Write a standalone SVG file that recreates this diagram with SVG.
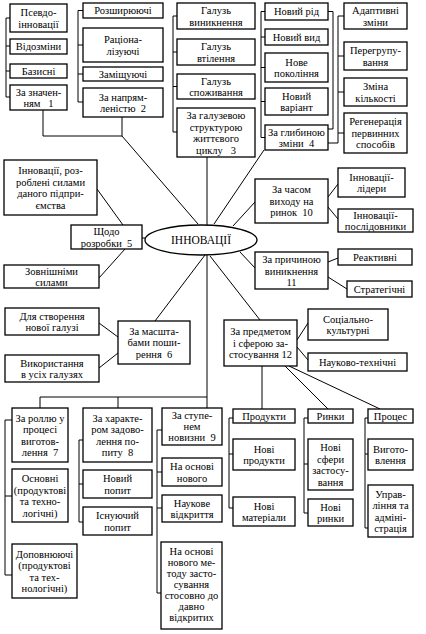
<svg xmlns="http://www.w3.org/2000/svg" width="426" height="634" viewBox="0 0 426 634">
<style>
.b{fill:#fff;stroke:#000;stroke-width:1.3}
.l{fill:none;stroke:#000;stroke-width:1}
</style>
<rect width="426" height="634" fill="#fff"/>
<g id="connectors" class="l">
<path d="M10,18H6V97H10M6,46H10M6,71H10"/>
<path d="M83,10.5H78V102H83M78,45H83M78,74H83"/>
<path d="M43,110V136H122M122,117V136L198,224"/>
<path d="M177,16H173V132H177M173,52H177M173,86.5H177"/>
<path d="M265,11.5H261V137.5H265M261,37H265M261,67.5H265M261,101.5H265"/>
<path d="M328,11.5H333V129H328"/>
<path d="M344,16H338V143H328M338,56H344M338,92H344M338,133H344"/>
<path d="M207,157V225M264,150L214,224"/>
<path d="M97,189L123,225M125,249L99,278M142,238H145"/>
<path d="M233,226L255,202M240,252L255,268"/>
<path d="M328,197L338,184M328,207L338,219M328,262L338,258M328,277L347,289"/>
<path d="M205,255L155,321M99,323L118,337M99,368L118,353"/>
<path d="M210,256L260,320M297,340L308,323M297,347L308,360"/>
<path d="M207,255V408M40,397H207M40,397V408M118,397V408"/>
<path d="M262,366V409M285,366L328,409M289,366L380,409"/>
<path d="M12,420H5V575H12M5,496H12"/>
<path d="M83,440H79V522H83M79,484H83"/>
<path d="M162,430H157V593H161M157,472H162M157,508H162"/>
<path d="M233,418H229V508H233M229,454H233"/>
<path d="M308,418H304V513H308M304,464H308"/>
<path d="M368,418H365V528H368M365,454H368"/>
</g>
<g font-family="Liberation Serif" font-size="10.5" text-anchor="middle" fill="#000">
<g id="n_pseudo"><rect class="b" x="10" y="4" width="57" height="28"/><text x="38.5" y="16">Псевдо-</text><text x="38.5" y="27.5">інновації</text></g>
<g id="n_vidozminy"><rect class="b" x="10" y="39" width="57" height="15"/><text x="38.5" y="50.3">Відозміни</text></g>
<g id="n_bazysni"><rect class="b" x="10" y="64" width="57" height="14"/><text x="38.5" y="74.8">Базисні</text></g>
<g id="n_1"><rect class="b" x="10" y="85" width="57" height="25"/><text x="38.5" y="95.5">За значен-</text><text x="38.5" y="107" xml:space="preserve">ням   1</text></g>
<g id="n_rozshyr"><rect class="b" x="83" y="3" width="80" height="15"/><text x="123" y="14.3">Розширюючі</text></g>
<g id="n_ratsion"><rect class="b" x="83" y="28" width="80" height="34"/><text x="123" y="43">Раціона-</text><text x="123" y="54.5">лізуючі</text></g>
<g id="n_zamisch"><rect class="b" x="83" y="67" width="80" height="14"/><text x="123" y="77.8">Заміщуючі</text></g>
<g id="n_2"><rect class="b" x="83" y="88" width="80" height="29"/><text x="123" y="100.5">За напрям-</text><text x="123" y="112" xml:space="preserve">леністю  2</text></g>
<g id="n_vynyk"><rect class="b" x="177" y="3" width="78" height="26"/><text x="216" y="14">Галузь</text><text x="216" y="25.5">виникнення</text></g>
<g id="n_vtil"><rect class="b" x="177" y="39" width="78" height="26"/><text x="216" y="50">Галузь</text><text x="216" y="61.5">втілення</text></g>
<g id="n_spozh"><rect class="b" x="177" y="74" width="78" height="25"/><text x="216" y="84.5">Галузь</text><text x="216" y="96">споживання</text></g>
<g id="n_3"><rect class="b" x="177" y="108" width="78" height="49"/><text x="216" y="119">За галузевою</text><text x="216" y="130.5">структурою</text><text x="216" y="142">життєвого</text><text x="216" y="153.5" xml:space="preserve">циклу   3</text></g>
<g id="n_rid"><rect class="b" x="265" y="3" width="63" height="17"/><text x="296.5" y="15.3">Новий рід</text></g>
<g id="n_vyd"><rect class="b" x="265" y="29" width="63" height="16"/><text x="296.5" y="40.8">Новий вид</text></g>
<g id="n_pokol"><rect class="b" x="265" y="53" width="63" height="29"/><text x="296.5" y="65.5">Нове</text><text x="296.5" y="77">покоління</text></g>
<g id="n_variant"><rect class="b" x="265" y="88" width="63" height="27"/><text x="296.5" y="99.5">Новий</text><text x="296.5" y="111">варіант</text></g>
<g id="n_4"><rect class="b" x="265" y="125" width="63" height="25"/><text x="296.5" y="135.5">За глибиною</text><text x="296.5" y="147" xml:space="preserve">зміни  4</text></g>
<g id="n_adapt"><rect class="b" x="344" y="3" width="63" height="26"/><text x="375.5" y="14">Адаптивні</text><text x="375.5" y="25.5">зміни</text></g>
<g id="n_pereh"><rect class="b" x="344" y="42" width="63" height="28"/><text x="375.5" y="54">Перегрупу-</text><text x="375.5" y="65.5">вання</text></g>
<g id="n_kilk"><rect class="b" x="344" y="78" width="63" height="28"/><text x="375.5" y="90">Зміна</text><text x="375.5" y="101.5">кількості</text></g>
<g id="n_regen"><rect class="b" x="344" y="113" width="63" height="40"/><text x="375.5" y="125.3">Регенерація</text><text x="375.5" y="136.8">первинних</text><text x="375.5" y="148.3">способів</text></g>
<g id="n_center"><ellipse class="b" cx="201" cy="240" rx="56" ry="15"/><text x="201" y="244" font-size="11.5">ІННОВАЦІЇ</text></g>
<g id="n_rozrob"><rect class="b" x="4" y="160" width="93" height="55"/><text x="50.5" y="174.3">Інновації, роз-</text><text x="50.5" y="185.8">роблені силами</text><text x="50.5" y="197.3">даного підпри-</text><text x="50.5" y="208.8">ємства</text></g>
<g id="n_5"><rect class="b" x="71" y="225" width="71" height="24"/><text x="106.5" y="235">Щодо</text><text x="106.5" y="246.5" xml:space="preserve">розробки  5</text></g>
<g id="n_zovn"><rect class="b" x="4" y="265" width="95" height="23"/><text x="51.5" y="274.5">Зовнішніми</text><text x="51.5" y="286">силами</text></g>
<g id="n_10"><rect class="b" x="255" y="179" width="73" height="44"/><text x="291.5" y="193.3">За часом</text><text x="291.5" y="204.8">виходу на</text><text x="291.5" y="216.3" xml:space="preserve">ринок  10</text></g>
<g id="n_lidery"><rect class="b" x="338" y="168" width="67" height="29"/><text x="371.5" y="180.5">Інновації-</text><text x="371.5" y="192">лідери</text></g>
<g id="n_posl"><rect class="b" x="338" y="209" width="75" height="23"/><text x="375.5" y="218.5">Інновації-</text><text x="375.5" y="230">послідовники</text></g>
<g id="n_11"><rect class="b" x="255" y="252" width="73" height="37"/><text x="291.5" y="263">За причиною</text><text x="291.5" y="274.5">виникнення</text><text x="291.5" y="286">11</text></g>
<g id="n_reakt"><rect class="b" x="338" y="249" width="74" height="16"/><text x="375" y="260.8">Реактивні</text></g>
<g id="n_strat"><rect class="b" x="347" y="281" width="65" height="16"/><text x="379.5" y="292.8">Стратегічні</text></g>
<g id="n_nova"><rect class="b" x="5" y="308" width="94" height="27"/><text x="52" y="319.5">Для створення</text><text x="52" y="331">нової галузі</text></g>
<g id="n_usi"><rect class="b" x="5" y="355" width="94" height="27"/><text x="52" y="366.5">Використання</text><text x="52" y="378">в усіх галузях</text></g>
<g id="n_6"><rect class="b" x="118" y="321" width="72" height="43"/><text x="154" y="334.8">За масшта-</text><text x="154" y="346.3">бами поши-</text><text x="154" y="357.8" xml:space="preserve">рення  6</text></g>
<g id="n_12"><rect class="b" x="224" y="320" width="73" height="46"/><text x="260.5" y="335.3">За предметом</text><text x="260.5" y="346.8">і сферою за-</text><text x="260.5" y="358.3">стосування 12</text></g>
<g id="n_sots"><rect class="b" x="308" y="309" width="80" height="31"/><text x="348" y="322.5">Соціально-</text><text x="348" y="334">культурні</text></g>
<g id="n_nauk"><rect class="b" x="308" y="353" width="99" height="18"/><text x="357.5" y="365.8">Науково-технічні</text></g>
<g id="n_7"><rect class="b" x="12" y="408" width="56" height="54"/><text x="40" y="421.5">За роллю у</text><text x="40" y="433">процесі</text><text x="40" y="444.5">виготов-</text><text x="40" y="456" xml:space="preserve">лення  7</text></g>
<g id="n_osn"><rect class="b" x="12" y="469" width="56" height="53"/><text x="40" y="482">Основні</text><text x="40" y="493.5">(продуктові</text><text x="40" y="505">та техно-</text><text x="40" y="516.5">логічні)</text></g>
<g id="n_dop"><rect class="b" x="12" y="544" width="65" height="54"/><text x="44.5" y="557.5">Доповнюючі</text><text x="44.5" y="569">(продуктові</text><text x="44.5" y="580.5">та тех-</text><text x="44.5" y="592">нологічні)</text></g>
<g id="n_8"><rect class="b" x="83" y="408" width="69" height="54"/><text x="117.5" y="421.5">За характе-</text><text x="117.5" y="433">ром задово-</text><text x="117.5" y="444.5">лення по-</text><text x="117.5" y="456" xml:space="preserve">питу  8</text></g>
<g id="n_novpop"><rect class="b" x="83" y="470" width="69" height="28"/><text x="117.5" y="482">Новий</text><text x="117.5" y="493.5">попит</text></g>
<g id="n_isnpop"><rect class="b" x="83" y="507" width="69" height="28"/><text x="117.5" y="519">Існуючий</text><text x="117.5" y="530.5">попит</text></g>
<g id="n_9"><rect class="b" x="162" y="408" width="60" height="37"/><text x="192" y="419.3">За ступе-</text><text x="192" y="430.3">нем</text><text x="192" y="441.3" xml:space="preserve">новизни  9</text></g>
<g id="n_osnnov"><rect class="b" x="162" y="458" width="60" height="28"/><text x="192" y="470">На основі</text><text x="192" y="481.5">нового</text></g>
<g id="n_vidkr"><rect class="b" x="162" y="495" width="60" height="27"/><text x="192" y="506.5">Наукове</text><text x="192" y="518">відкриття</text></g>
<g id="n_metod"><rect class="b" x="161" y="542" width="61" height="87"/><text x="191.5" y="555">На основі</text><text x="191.5" y="566">нового ме-</text><text x="191.5" y="577">тоду засто-</text><text x="191.5" y="588">сування</text><text x="191.5" y="599">стосовно до</text><text x="191.5" y="610">давно</text><text x="191.5" y="621">відкритих</text></g>
<g id="n_prod"><rect class="b" x="233" y="409" width="62" height="14"/><text x="264" y="419.8">Продукти</text></g>
<g id="n_novprod"><rect class="b" x="233" y="439" width="62" height="31"/><text x="264" y="452.5">Нові</text><text x="264" y="464">продукти</text></g>
<g id="n_novmat"><rect class="b" x="233" y="497" width="62" height="29"/><text x="264" y="509.5">Нові</text><text x="264" y="521">матеріали</text></g>
<g id="n_rynky"><rect class="b" x="308" y="409" width="45" height="14"/><text x="330.5" y="419.8">Ринки</text></g>
<g id="n_sfery"><rect class="b" x="308" y="439" width="45" height="51"/><text x="330.5" y="451.3">Нові</text><text x="330.5" y="462.8">сфери</text><text x="330.5" y="474.3">застосу-</text><text x="330.5" y="485.8">вання</text></g>
<g id="n_novryn"><rect class="b" x="308" y="499" width="45" height="27"/><text x="330.5" y="510.5">Нові</text><text x="330.5" y="522">ринки</text></g>
<g id="n_proc"><rect class="b" x="368" y="409" width="45" height="14"/><text x="390.5" y="419.8">Процес</text></g>
<g id="n_vyhot"><rect class="b" x="368" y="439" width="45" height="31"/><text x="390.5" y="452.5">Вигото-</text><text x="390.5" y="464">влення</text></g>
<g id="n_uprav"><rect class="b" x="368" y="485" width="45" height="52"/><text x="390.5" y="497.8">Управ-</text><text x="390.5" y="509.3">ління та</text><text x="390.5" y="520.8">адміні-</text><text x="390.5" y="532.3">страція</text></g>
</g>
</svg>
